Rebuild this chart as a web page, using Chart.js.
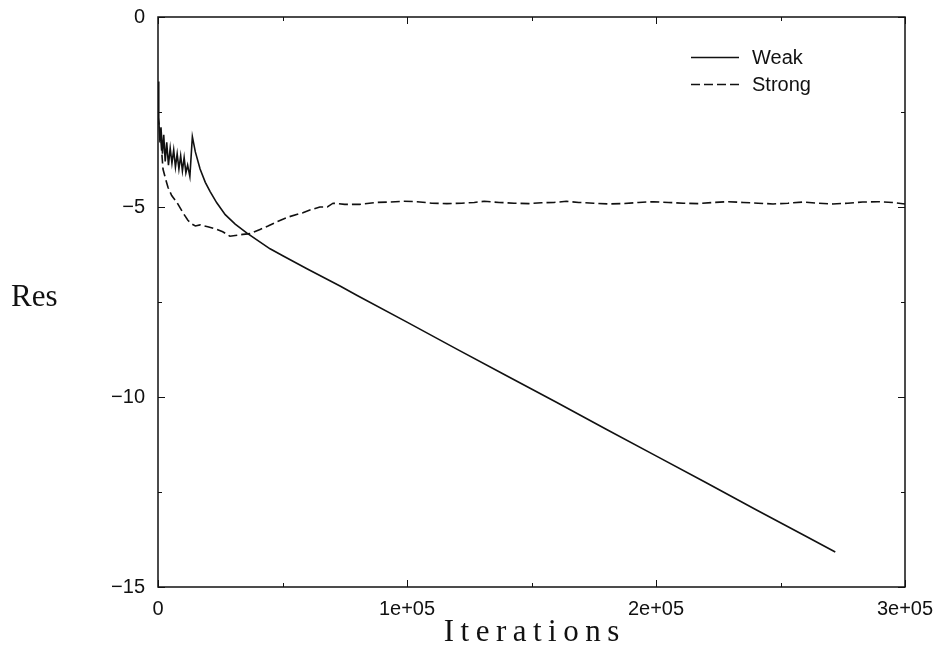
<!DOCTYPE html>
<html>
<head>
<meta charset="utf-8">
<title>Residual history</title>
<script src="https://cdn.jsdelivr.net/npm/chart.js@4.4.1/dist/chart.umd.min.js"></script>
<style>
  html, body { margin: 0; padding: 0; background: #fff; }
  #wrap { width: 940px; height: 648px; }
</style>
</head>
<body>
<div id="wrap"><canvas id="c" width="940" height="648"></canvas></div>
<script>
// Residual history of the two coupling schemes
const weakIter = [0, 300, 800, 1200, 1800, 2300, 2900, 3500, 4200, 4900, 5600, 6300, 7000, 7700, 8400, 9100, 9800, 10500, 11200, 11900, 12800, 13800, 15000, 16900, 19000, 21000, 23600, 27000, 31000, 35600, 40000, 45000, 50300, 60000, 73100, 80000, 100000, 120000, 140000, 160000, 180000, 200000, 220000, 240000, 260000, 272000];
const weakRes = [-1.7, -2.7, -3.3, -2.9, -3.6, -3.1, -3.8, -3.3, -3.9, -3.45, -3.85, -3.5, -3.95, -3.6, -4.0, -3.65, -4.05, -3.7, -4.1, -3.9, -4.2, -3.15, -3.55, -4.0, -4.35, -4.6, -4.89, -5.2, -5.45, -5.68, -5.88, -6.1, -6.29, -6.63, -7.08, -7.33, -8.03, -8.74, -9.44, -10.14, -10.85, -11.55, -12.25, -12.96, -13.66, -14.08];

const strongIter = [0, 1000, 2000, 3000, 4000, 5500, 7600, 10000, 12000, 13700, 15000, 16900, 20000, 23700, 26000, 28900, 31000, 34100, 37000, 41000, 44200, 48000, 52000, 58200, 61000, 65000, 68000, 70300, 75000, 81000, 88000, 93000, 98400, 104000, 110000, 116000, 122000, 127000, 131000, 137000, 143000, 149000, 154000, 159000, 164000, 169000, 175000, 181000, 187000, 193000, 199000, 205000, 211000, 217000, 223000, 229000, 235000, 241000, 247000, 253000, 259000, 265000, 271000, 277000, 283000, 289000, 295000, 300000];
const strongRes = [-2.6, -3.1, -4.0, -4.25, -4.48, -4.7, -4.88, -5.15, -5.35, -5.45, -5.5, -5.47, -5.52, -5.59, -5.65, -5.77, -5.75, -5.72, -5.7, -5.59, -5.5, -5.38, -5.27, -5.15, -5.08, -5.0, -5.0, -4.9, -4.93, -4.93, -4.88, -4.87, -4.85, -4.86, -4.9, -4.91, -4.9, -4.88, -4.85, -4.88, -4.9, -4.91, -4.89, -4.88, -4.85, -4.88, -4.9, -4.92, -4.91, -4.88, -4.86, -4.88, -4.9, -4.91, -4.88, -4.86, -4.88, -4.9, -4.92, -4.9, -4.87, -4.9, -4.92, -4.9, -4.87, -4.86, -4.88, -4.92];

const xTickValues = [0, 100000, 200000, 300000];
const xTickLabels = ['0', '1e+05', '2e+05', '3e+05'];
const yTickValues = [0, -5, -10, -15];
const yTickLabels = ['0', '\u22125', '\u221210', '\u221215'];

const seriesNames = ['Weak', 'Strong'];
const xTitle = 'Iterations';
const yTitle = 'Res';

function toPoints(xs, ys) {
  return xs.map((x, i) => ({ x: x, y: ys[i] }));
}

const INK = '#111';
const sansFont = '"Liberation Sans", Arial, Helvetica, sans-serif';
const serifFont = '"Liberation Serif", "Times New Roman", serif';

// draw a string one glyph at a time with extra tracking, centred on cx
function spacedText(ctx, text, cx, y, gap) {
  const widths = [...text].map(ch => ctx.measureText(ch).width);
  const total = widths.reduce((s, w) => s + w, 0) + gap * (text.length - 1);
  let x = cx - total / 2;
  ctx.textAlign = 'left';
  [...text].forEach((ch, i) => {
    ctx.fillText(ch, x, y);
    x += widths[i] + gap;
  });
}

// Frame with inward major/minor ticks on all four sides, plus axis titles and legend
const framePlugin = {
  id: 'frame',
  afterDraw(chart) {
    const ctx = chart.ctx;
    const a = chart.chartArea;
    const xs = chart.scales.x, ys = chart.scales.y;
    ctx.save();
    ctx.strokeStyle = INK;
    ctx.lineWidth = 1.5;
    ctx.setLineDash([]);
    ctx.strokeRect(a.left, a.top, a.right - a.left, a.bottom - a.top);

    ctx.lineWidth = 1;
    const major = 7, minor = 4;
    for (let v = 0; v <= 300000; v += 50000) {
      const len = (v % 100000 === 0) ? major : minor;
      const px = Math.round(xs.getPixelForValue(v)) + 0.5;
      ctx.beginPath();
      ctx.moveTo(px, a.bottom); ctx.lineTo(px, a.bottom - len);
      ctx.moveTo(px, a.top); ctx.lineTo(px, a.top + len);
      ctx.stroke();
    }
    for (let v = 0; v >= -15; v -= 2.5) {
      const len = (v % 5 === 0) ? major : minor;
      const py = Math.round(ys.getPixelForValue(v)) + 0.5;
      ctx.beginPath();
      ctx.moveTo(a.left, py); ctx.lineTo(a.left + len, py);
      ctx.moveTo(a.right, py); ctx.lineTo(a.right - len, py);
      ctx.stroke();
    }

    // axis titles
    ctx.fillStyle = INK;
    ctx.font = '31px ' + serifFont;
    ctx.textBaseline = 'alphabetic';
    ctx.textAlign = 'left';
    ctx.fillText(yTitle, 11, 306);
    spacedText(ctx, xTitle, (a.left + a.right) / 2, 641, 6.5);

    // legend
    ctx.font = '20px ' + sansFont;
    ctx.textAlign = 'left';
    ctx.textBaseline = 'middle';
    const rows = [57, 84];
    chart.data.datasets.forEach((ds, i) => {
      const y = rows[i] + 0.5;
      ctx.lineWidth = 1.5;
      ctx.setLineDash(ds.borderDash || []);
      ctx.beginPath();
      ctx.moveTo(691, y); ctx.lineTo(739, y);
      ctx.stroke();
      ctx.setLineDash([]);
      ctx.fillText(ds.label, 752, rows[i] + 1);
    });
    ctx.restore();
  }
};

new Chart(document.getElementById('c'), {
  type: 'line',
  data: {
    datasets: [
      {
        label: seriesNames[0],
        data: toPoints(weakIter, weakRes),
        borderColor: INK,
        borderWidth: 1.6,
        pointRadius: 0,
        tension: 0,
        fill: false
      },
      {
        label: seriesNames[1],
        data: toPoints(strongIter, strongRes),
        borderColor: INK,
        borderWidth: 1.6,
        borderDash: [9, 4],
        pointRadius: 0,
        tension: 0,
        fill: false
      }
    ]
  },
  options: {
    responsive: false,
    animation: false,
    events: [],
    layout: { padding: { top: 14, right: 35, left: 0, bottom: 0 } },
    plugins: {
      legend: { display: false },
      tooltip: { enabled: false }
    },
    scales: {
      x: {
        type: 'linear',
        min: 0,
        max: 300000,
        grid: { display: false },
        border: { display: false },
        afterFit(scale) { scale.height = 61; },
        afterBuildTicks(scale) { scale.ticks = xTickValues.map(v => ({ value: v })); },
        ticks: {
          padding: 2,
          color: INK,
          maxRotation: 0,
          font: { family: sansFont, size: 20 },
          callback: (v) => xTickLabels[xTickValues.indexOf(v)]
        }
      },
      y: {
        type: 'linear',
        min: -15,
        max: 0,
        grid: { display: false },
        border: { display: false },
        afterFit(scale) { scale.width = 158; },
        afterBuildTicks(scale) { scale.ticks = yTickValues.map(v => ({ value: v })); },
        ticks: {
          padding: 5,
          color: INK,
          font: { family: sansFont, size: 20 },
          callback: (v) => yTickLabels[yTickValues.indexOf(v)]
        }
      }
    }
  },
  plugins: [framePlugin]
});
</script>
</body>
</html>
